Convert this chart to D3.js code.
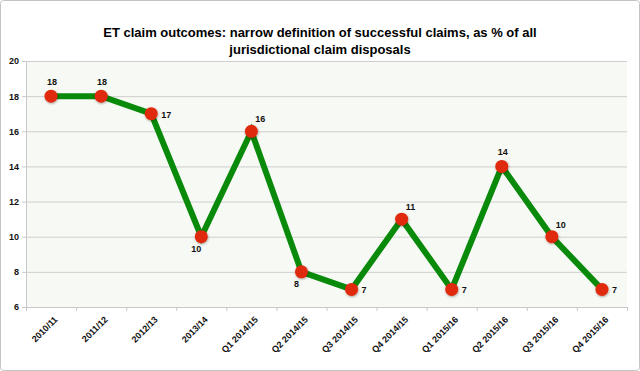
<!DOCTYPE html>
<html>
<head>
<meta charset="utf-8">
<script src="https://cdn.jsdelivr.net/npm/d3@7"></script>
<style>
  body { margin: 0; background: #fff; }
  text { font-family: "Liberation Sans", Arial, sans-serif; }
</style>
</head>
<body>
<svg id="chart" width="640" height="371"></svg>
<script>
const periods = ["2010/11", "2011/12", "2012/13", "2013/14", "Q1 2014/15", "Q2 2014/15",
  "Q3 2014/15", "Q4 2014/15", "Q1 2015/16", "Q2 2015/16", "Q3 2015/16", "Q4 2015/16"];
const successPct = [18, 18, 17, 10, 16, 8, 7, 11, 7, 14, 10, 7];
const yTicks = [6, 8, 10, 12, 14, 16, 18, 20];
// where each value label sits relative to its marker
const labelPlace = ["above", "above", "right", "belowLeft", "aboveRight", "belowLeft",
  "right", "aboveRight", "right", "above", "aboveRight", "right"];

const svg = d3.select("#chart");
const margin = { top: 61, right: 13, bottom: 64, left: 26 };
const width = +svg.attr("width") - margin.left - margin.right;
const height = +svg.attr("height") - margin.top - margin.bottom;

// outer frame
svg.append("rect")
  .attr("x", 0.5).attr("y", 0.5)
  .attr("width", 639).attr("height", 370)
  .attr("rx", 3)
  .attr("fill", "#fff")
  .attr("stroke", "#c4c4c4");

svg.append("text")
  .attr("x", 320).attr("y", 37)
  .attr("text-anchor", "middle")
  .attr("font-size", 13).attr("font-weight", "bold")
  .text("ET claim outcomes: narrow definition of successful claims, as % of all");
svg.append("text")
  .attr("x", 320).attr("y", 54)
  .attr("text-anchor", "middle")
  .attr("font-size", 13).attr("font-weight", "bold")
  .text("jurisdictional claim disposals");

const g = svg.append("g").attr("transform", `translate(${margin.left},${margin.top})`);

const x = d3.scaleBand().domain(periods).range([0, width]);
const y = d3.scaleLinear().domain([6, 20]).range([height, 0]);

g.append("rect")
  .attr("width", width).attr("height", height)
  .attr("fill", "#f7f9f4");

// gridlines
g.selectAll(".grid")
  .data(yTicks.slice(1))
  .enter().append("line")
  .attr("x1", 0).attr("x2", width)
  .attr("y1", d => y(d) + 0.5).attr("y2", d => y(d) + 0.5)
  .attr("stroke", "#cfcfcf");

const yAxis = g.append("g")
  .call(d3.axisLeft(y).tickValues(yTicks).tickSize(4).tickPadding(3));
yAxis.select(".domain").attr("stroke", "#c8c8c8");
yAxis.selectAll(".tick line").attr("stroke", "#c8c8c8");
yAxis.selectAll("text").attr("font-size", 9).attr("font-weight", "bold").attr("fill", "#111")
  .style("font-family", "'Liberation Sans', Arial, sans-serif");

const xAxis = g.append("g")
  .attr("transform", `translate(0,${height})`)
  .call(d3.axisBottom(x).tickSize(0).tickSizeOuter(0));
xAxis.select(".domain").attr("stroke", "#c8c8c8");
// ticks at band boundaries
xAxis.selectAll(".bound")
  .data(periods.concat([null]))
  .enter().append("line")
  .attr("x1", (d, i) => i * x.step() + 0.5).attr("x2", (d, i) => i * x.step() + 0.5)
  .attr("y1", 0).attr("y2", 4)
  .attr("stroke", "#c8c8c8");
xAxis.selectAll(".tick text")
  .attr("font-size", 9).attr("font-weight", "bold").attr("fill", "#111")
  .style("font-family", "'Liberation Sans', Arial, sans-serif")
  .attr("text-anchor", "end")
  .attr("dy", 0)
  .attr("transform", "translate(5,11) rotate(-45)");

const cx = d => x(d) + x.bandwidth() / 2;

const line = d3.line()
  .x((d, i) => cx(periods[i]))
  .y(d => y(d));

const defs = svg.append("defs");
const shadow = defs.append("filter").attr("id", "sh").attr("x", "-50%").attr("y", "-50%")
  .attr("width", "200%").attr("height", "200%");
shadow.append("feDropShadow").attr("dx", 0.5).attr("dy", 1).attr("stdDeviation", 1)
  .attr("flood-color", "#000").attr("flood-opacity", 0.35);

g.append("path")
  .datum(successPct)
  .attr("d", line)
  .attr("fill", "none")
  .attr("stroke", "#0a8a0a")
  .attr("stroke-width", 6)
  .attr("stroke-linejoin", "miter");

g.selectAll(".dot")
  .data(successPct)
  .enter().append("circle")
  .attr("class", "dot")
  .attr("cx", (d, i) => cx(periods[i]))
  .attr("cy", d => y(d))
  .attr("r", 6.5)
  .attr("fill", "#e02a10")
  .attr("filter", "url(#sh)");

const offs = {
  above: [1, -11, "middle"],
  right: [10, 4, "start"],
  belowLeft: [-5, 15, "middle"],
  aboveRight: [9, -9, "middle"]
};

g.selectAll(".lbl")
  .data(successPct)
  .enter().append("text")
  .attr("class", "lbl")
  .attr("x", (d, i) => cx(periods[i]) + offs[labelPlace[i]][0])
  .attr("y", (d, i) => y(d) + offs[labelPlace[i]][1])
  .attr("text-anchor", (d, i) => offs[labelPlace[i]][2])
  .attr("font-size", 9).attr("font-weight", "bold").attr("fill", "#111")
  .text(d => d);
</script>
</body>
</html>
